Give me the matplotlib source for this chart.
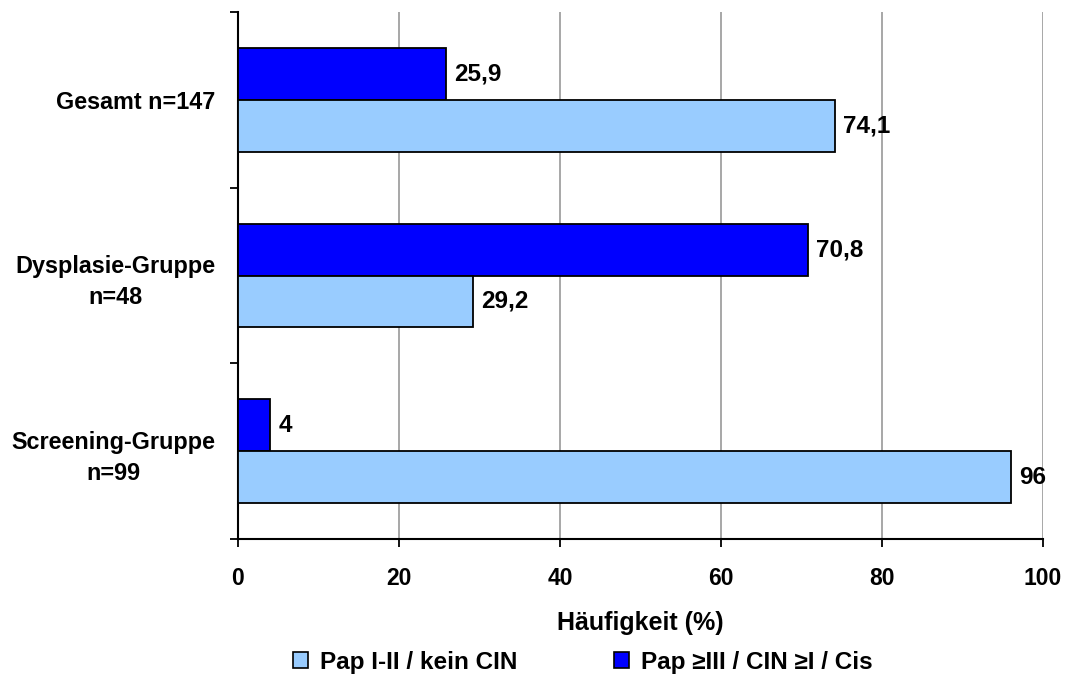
import matplotlib
matplotlib.use("Agg")
import matplotlib.pyplot as plt
from matplotlib.patches import Patch
import numpy as np

categories = ["Gesamt n=147", "Dysplasie-Gruppe\nn=48", "Screening-Gruppe\nn=99"]
series_names = ["Pap I-II / kein CIN", "Pap \u2265III / CIN \u2265I / Cis"]
light_vals = [74.1, 29.2, 96]
dark_vals = [25.9, 70.8, 4]
light_labels = ["74,1", "29,2", "96"]
dark_labels = ["25,9", "70,8", "4"]
xticks = [0, 20, 40, 60, 80, 100]

plt.rcParams['font.family'] = ['Liberation Sans', 'DejaVu Sans']
plt.rcParams['font.weight'] = 'bold'

fig = plt.figure(figsize=(10.66, 6.75), dpi=100)
ax = fig.add_axes([238/1066, 1 - 539/675, (1043 - 238)/1066, (539 - 12)/675])

n = len(categories)
pos = np.arange(n)[::-1] + 0.5  # top category at highest y
h = 0.296
light_c = "#99CCFF"
dark_c = "#0000FF"

ax.barh(pos + h/2, dark_vals, height=h, color=dark_c, edgecolor="black", linewidth=1.3, zorder=3)
ax.barh(pos - h/2, light_vals, height=h, color=light_c, edgecolor="black", linewidth=1.3, zorder=3)

fs = 16.5
vfs = 17.5
for p, v, lab in zip(pos, dark_vals, dark_labels):
    ax.text(v + 1.0, p + h/2, lab, va="center", ha="left", fontsize=vfs, fontweight="bold")
for p, v, lab in zip(pos, light_vals, light_labels):
    ax.text(v + 1.0, p - h/2, lab, va="center", ha="left", fontsize=vfs, fontweight="bold")

ax.set_xlim(0, 100)
ax.set_ylim(0, n)
ax.set_xticks(xticks)
ax.set_xticklabels([str(t) for t in xticks], fontsize=fs, fontweight="bold")
ax.set_yticks(np.arange(n + 1))
ax.set_yticklabels([])
ax.set_yticks(pos, minor=True)
ax.set_yticklabels(categories, minor=True, fontsize=16.8, fontweight="bold",
                   ha="right", multialignment="center", linespacing=1.45)
ax.tick_params(axis="y", which="minor", length=0, pad=16.5)
ax.tick_params(axis="y", which="major", length=6, width=1.3, direction="out")
ax.tick_params(axis="x", which="major", length=6, width=1.3, direction="out", pad=14)

ax.xaxis.grid(True, color="#A0A0A0", linewidth=1.3, zorder=0)
ax.set_axisbelow(True)
for s in ["top", "right"]:
    ax.spines[s].set_visible(False)
for s in ["left", "bottom"]:
    ax.spines[s].set_linewidth(1.5)
    ax.spines[s].set_color("black")

ax.set_xlabel("H\u00e4ufigkeit (%)", fontsize=18, fontweight="bold", labelpad=15)

handles = [Patch(facecolor=light_c, edgecolor="black", linewidth=1.2),
           Patch(facecolor=dark_c, edgecolor="black", linewidth=1.2)]
fig.legend(handles, series_names, loc="center", bbox_to_anchor=(583/1066, 1 - 662/675),
           ncol=2, frameon=False, prop={"weight": "bold", "size": 17.5},
           handlelength=0.6, handleheight=0.6, handletextpad=0.5, columnspacing=4.0)

fig.savefig("out.png", dpi=100)
